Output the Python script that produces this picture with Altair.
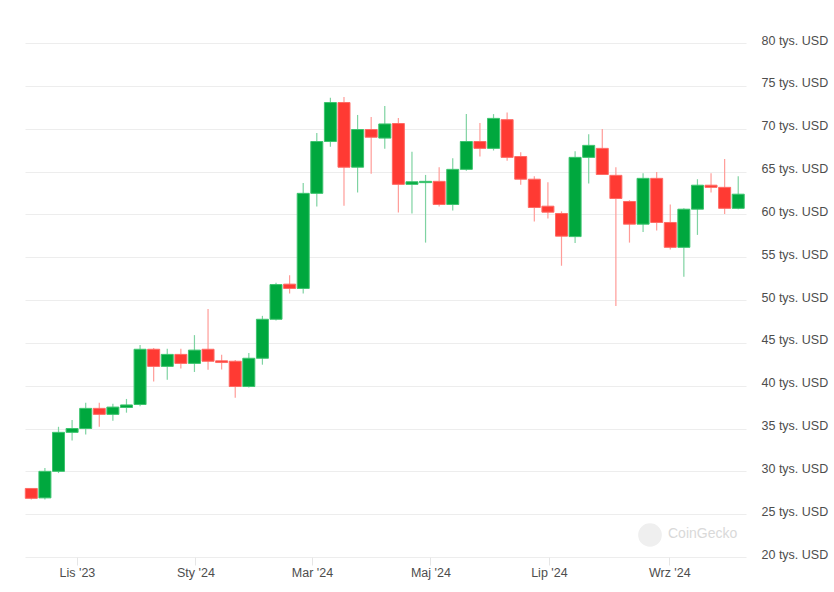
import altair as alt
import pandas as pd

# weekly candles (values in thousands of USD)
opens = [28.0, 26.9, 30.0, 34.55, 35.0, 37.35, 36.65, 37.45, 37.8, 44.25,
         42.25, 43.65, 42.6, 44.25, 42.9, 42.85, 39.9, 43.2, 47.75, 51.85,
         51.35, 62.45, 68.5, 73.05, 65.5, 69.9, 68.9, 70.6, 63.5, 63.7,
         63.85, 61.15, 65.25, 68.5, 67.7, 71.05, 66.75, 64.1, 60.95, 60.1,
         57.4, 66.65, 67.7, 64.55, 61.5, 58.85, 64.2, 59.05, 56.15, 60.6,
         63.4, 63.15, 60.7]
highs = [28.05, 30.4, 35.2, 36.0, 38.0, 38.0, 37.9, 38.45, 44.75, 44.4,
         44.3, 44.3, 45.9, 48.95, 43.6, 43.0, 43.8, 48.15, 52.0, 52.9,
         63.65, 69.5, 73.6, 73.7, 71.6, 71.35, 72.65, 71.25, 67.3, 64.6,
         65.5, 66.55, 71.7, 70.65, 71.7, 71.9, 67.25, 64.45, 63.75, 60.35,
         67.35, 69.35, 69.95, 65.5, 61.65, 64.8, 64.95, 61.15, 60.7, 64.1,
         64.8, 66.45, 64.45]
lows = [26.7, 26.7, 29.8, 33.6, 34.3, 35.2, 35.9, 36.85, 37.6, 40.5,
        40.7, 42.0, 41.6, 41.85, 41.9, 38.6, 39.8, 42.45, 47.6, 50.75,
        50.75, 60.9, 67.9, 61.0, 62.55, 64.75, 67.65, 60.2, 60.1, 56.7,
        60.9, 60.45, 65.1, 66.75, 67.45, 66.25, 63.45, 59.15, 59.5, 54.0,
        56.65, 63.6, 64.6, 49.3, 56.7, 57.95, 58.1, 55.9, 52.7, 57.6,
        62.55, 60.05, 60.6]
closes = [26.85, 30.0, 34.55, 35.0, 37.35, 36.65, 37.5, 37.75, 44.25, 42.25,
          43.65, 42.6, 44.15, 42.85, 42.7, 39.9, 43.2, 47.75, 51.8, 51.35,
          62.45, 68.5, 73.05, 65.5, 69.9, 69.0, 70.55, 63.5, 63.8, 63.85,
          61.15, 65.25, 68.5, 67.7, 71.2, 66.65, 64.1, 60.8, 60.25, 57.45,
          66.65, 68.05, 64.65, 61.85, 58.85, 64.2, 59.05, 56.15, 60.6, 63.4,
          63.15, 60.7, 62.35]
dates = pd.date_range("2023-10-08 12:00", periods=len(opens), freq="7D")
dates_str = [d.strftime("%Y-%m-%dT%H:%M:%S") for d in dates]

y_ticks = [20, 25, 30, 35, 40, 45, 50, 55, 60, 65, 70, 75, 80]
pl_months = ["Sty", "Lut", "Mar", "Kwi", "Maj", "Cze", "Lip", "Sie", "Wrz", "Paź", "Lis", "Gru"]

df = pd.DataFrame({
    "date": dates_str,
    "open": opens, "high": highs, "low": lows, "close": closes,
})
df["dir"] = ["up" if c >= o else "down" for o, c in zip(opens, closes)]

FONT = "Liberation Sans"
LABEL = "#4d4d4d"

month_expr = "[" + ",".join("'" + m + "'" for m in pl_months) + "][month(datum.value)] + \" '\" + timeFormat(datum.value, '%y')"

x_enc = alt.X(
    "date:T",
    scale=alt.Scale(domain=[alt.DateTime(year=2023, month=10, date=5, hours=6),
                            alt.DateTime(year=2024, month=10, date=10, hours=12)],
                    padding=0),
    axis=alt.Axis(
        title=None, grid=False, domain=False,
        values=[alt.DateTime(year=2023, month=11, date=1),
                alt.DateTime(year=2024, month=1, date=1),
                alt.DateTime(year=2024, month=3, date=1),
                alt.DateTime(year=2024, month=5, date=1),
                alt.DateTime(year=2024, month=7, date=1),
                alt.DateTime(year=2024, month=9, date=1)],
        labelExpr=month_expr,
        tickColor="#e6e6e6", tickSize=8, labelPadding=1,
        labelFont=FONT, labelFontSize=12.5, labelColor=LABEL,
        labelBaseline="top",
    ),
)

y_scale = alt.Scale(domain=[20, 80], nice=False, zero=False)

wicks = alt.Chart(df).mark_rule(strokeWidth=1.2).encode(
    x=x_enc,
    y=alt.Y("low:Q", scale=y_scale, axis=alt.Axis(
        orient="right", title=None, values=y_ticks,
        labelExpr="datum.value + ' tys. USD'",
        domain=False, ticks=False, labelPadding=15, labelOffset=-3,
        gridColor="#ededed", gridWidth=1,
        labelFont=FONT, labelFontSize=12.5, labelColor=LABEL,
    )),
    y2="high:Q",
    color=alt.Color("dir:N", scale=alt.Scale(domain=["up", "down"], range=["#7fd3a2", "#ff9c98"]), legend=None),
)

bodies = alt.Chart(df).mark_bar(size=12, strokeWidth=1).encode(
    x=x_enc,
    y=alt.Y("open:Q", scale=y_scale),
    y2="close:Q",
    fill=alt.Fill("dir:N", scale=alt.Scale(domain=["up", "down"], range=["#00a83e", "#ff3a33"]), legend=None),
    stroke=alt.Stroke("dir:N", scale=alt.Scale(domain=["up", "down"], range=["#3cc46e", "#ff6a64"]), legend=None),
)

logo = alt.Chart(pd.DataFrame({"t": ["CoinGecko"]})).mark_point(
    filled=True, size=560, color="#efefef", opacity=1
).encode(x=alt.value(625), y=alt.value(492))

logo_txt = alt.Chart(pd.DataFrame({"t": ["CoinGecko"]})).mark_text(
    align="left", baseline="middle", fontSize=14, font=FONT, color="#d9d9d9"
).encode(x=alt.value(643), y=alt.value(491), text="t:N")

chart = alt.layer(wicks, bodies, logo, logo_txt).resolve_scale(
    color="independent", fill="independent", stroke="independent"
).properties(
    width=721, height=514,
    autosize=alt.AutoSizeParams(type="none"),
    padding={"left": 25, "top": 43, "right": 88, "bottom": 35},
    background="white",
).configure_view(stroke=None)

chart.save("out.html", embed_options={"renderer": "svg", "actions": False})
